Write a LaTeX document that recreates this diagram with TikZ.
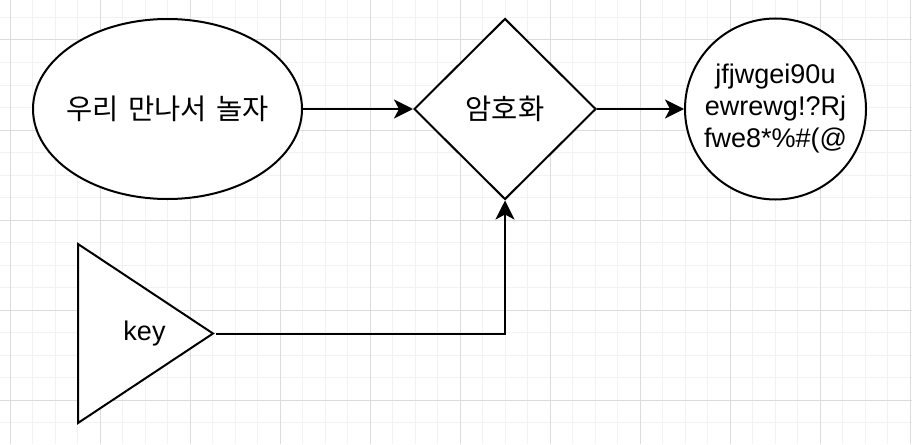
\documentclass[tikz,border=0pt]{standalone}
\usepackage{fontspec}
\setmainfont{Liberation Sans}
\newfontfamily\krfont[WordSpace=1.5]{Noto Sans CJK KR}
\usetikzlibrary{arrows.meta,shapes.geometric}
\definecolor{gridMinor}{HTML}{F2F2F2}
\definecolor{gridMajor}{HTML}{DCDCDC}
\tikzset{
  shp/.style={draw=black, fill=white, line width=2pt, inner sep=0pt, align=center},
  krtxt/.style={font=\krfont\fontsize{28.5}{32}\selectfont},
  lttxt/.style={font=\fontsize{27}{32}\selectfont},
  conn/.style={-{Stealth[length=19pt, width=19pt, inset=5pt]}, line width=2pt},
}
\begin{document}
\begin{tikzpicture}[x=1pt, y=-1pt]
  \useasboundingbox (0,0) rectangle (912,444);
  % --- grid ---
  \fill[white] (0,0) rectangle (912,444);
  \foreach \k in {0,...,41} \draw[gridMinor, line width=1pt] (-12.5+22.5*\k,0) -- ++(0,444);
  \foreach \k in {0,...,20} \draw[gridMinor, line width=1pt] (0,-5+22.5*\k) -- ++(912,0);
  \foreach \k in {0,...,10} \draw[gridMajor, line width=1pt] (10+90*\k,0) -- ++(0,444);
  \foreach \k in {0,...,4} \draw[gridMajor, line width=1pt] (0,40+90*\k) -- ++(912,0);
  % --- shapes ---
  \node[shp, ellipse, inner xsep=-12pt, minimum width=269, minimum height=180, krtxt] (msg)
       at (167.5,109) {우리 만나서 놀자};
  \node[shp, diamond, aspect=1, minimum width=182, minimum height=181, krtxt] (enc) at (505,109) {암호화};
  \node[shp, circle, minimum size=181, lttxt] (cph) at (775.5,109)
       {jfjwgei90u\\ewrewg!?Rj\\fwe8*\%\#(@};
  \node[shp, isosceles triangle, isosceles triangle stretches, shape border rotate=0,
        minimum width=179, minimum height=135, anchor=lower side] (key) at (77,333.5) {};
  \node[lttxt] (keytxt) at (144.5,333.5) {key};
  % --- edges ---
  \draw[conn] (msg) -- (enc);
  \draw[conn] (enc) -- (cph);
  \draw[conn] (key.apex) -| (enc.south);
\end{tikzpicture}
\end{document}
